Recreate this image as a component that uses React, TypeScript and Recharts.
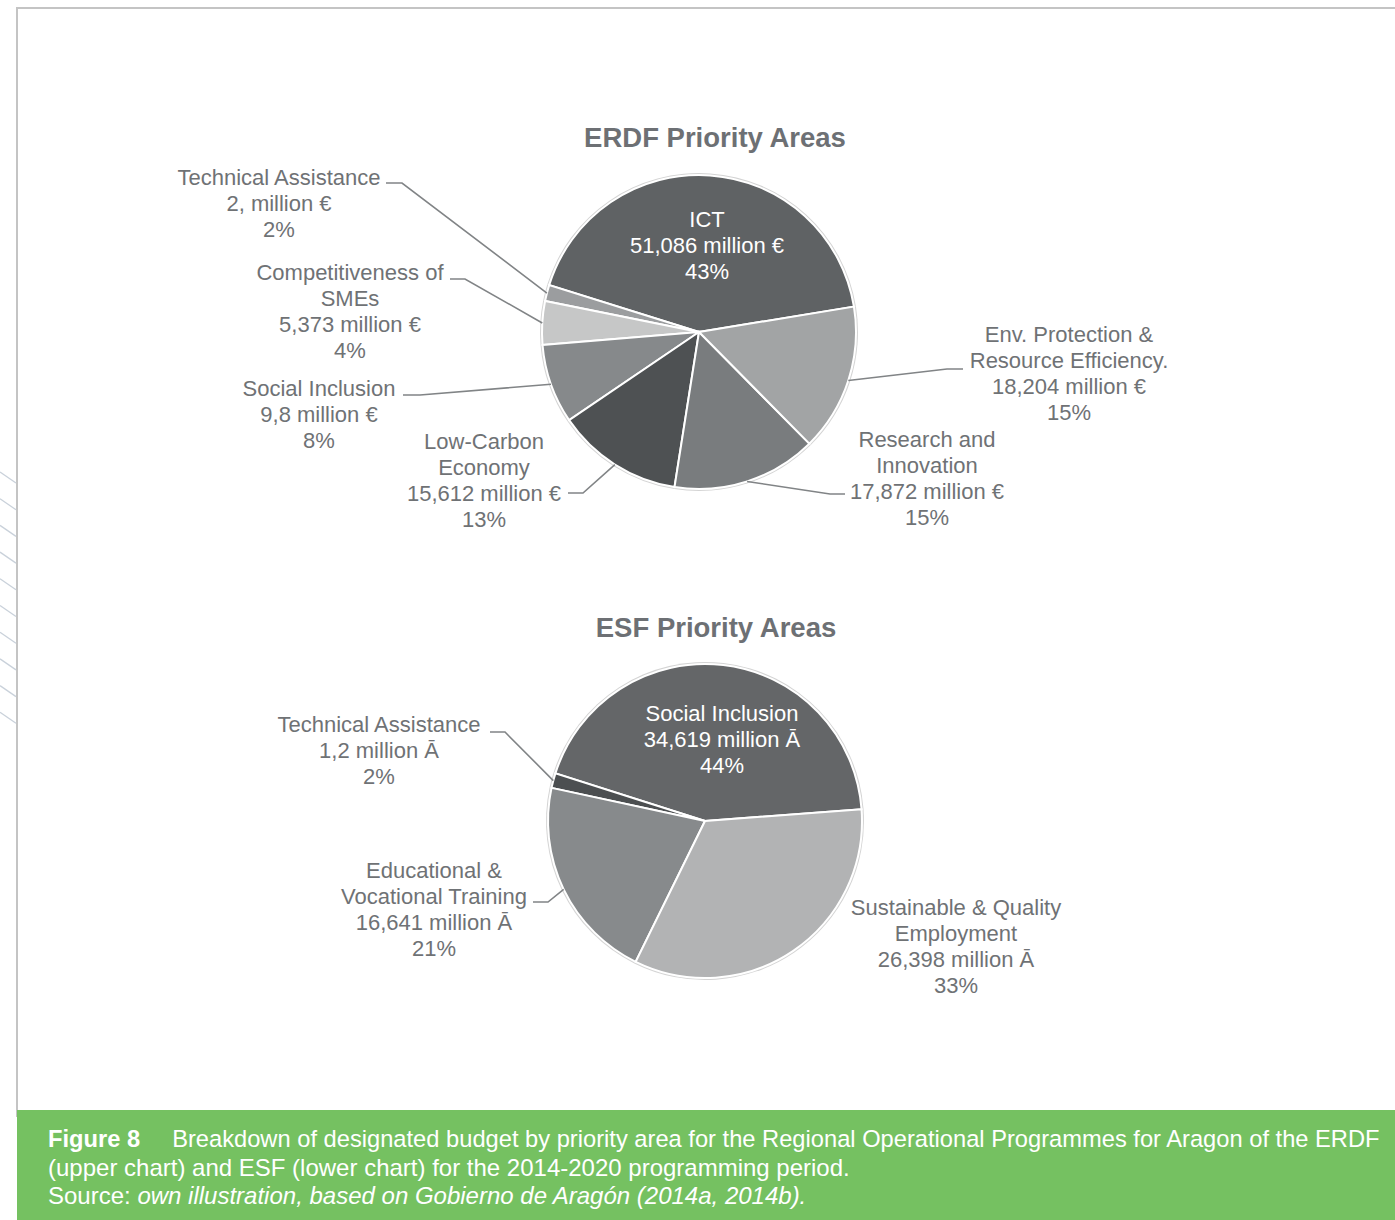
import React from 'react';
import { PieChart, Pie, Cell } from 'recharts';

// ---------- ERDF data ----------
const erdfNames = [
  'ICT',
  'Technical Assistance',
  'Competitiveness of\nSMEs',
  'Social Inclusion',
  'Low-Carbon\nEconomy',
  'Research and\nInnovation',
  'Env. Protection &\nResource Efficiency.',
];
const erdfValues = [51086, 2000, 5373, 9800, 15612, 17872, 18204];
const erdfValueLabels = [
  '51,086 million €',
  '2, million €',
  '5,373 million €',
  '9,8 million €',
  '15,612 million €',
  '17,872 million €',
  '18,204 million €',
];
const erdfColors = ['#5f6264', '#9b9d9f', '#c6c7c7', '#86898b', '#4e5153', '#797c7e', '#a2a4a5'];

// ---------- ESF data ----------
const esfNames = [
  'Social Inclusion',
  'Technical Assistance',
  'Educational &\nVocational Training',
  'Sustainable & Quality\nEmployment',
];
const esfValues = [34619, 1200, 16641, 26398];
const esfValueLabels = ['34,619 million Ā', '1,2 million Ā', '16,641 million Ā', '26,398 million Ā'];
const esfColors = ['#646668', '#4c4f51', '#878a8c', '#b2b3b4'];

const erdfData = erdfNames.map((n, i) => ({ name: n, value: erdfValues[i] }));
const esfData = esfNames.map((n, i) => ({ name: n, value: esfValues[i] }));

// ---------- label layout (offsets relative to pie centre) ----------
type LabelLayout = {
  tx: number;
  ty: number;
  inside?: boolean;
  leader?: { hx: number; ex: number; ly: number };
};
const erdfLabelLayout: LabelLayout[] = [
  { tx: 8, ty: -113, inside: true },
  { tx: -420, ty: -155, leader: { hx: -313, ex: -297, ly: -149 } },
  { tx: -349, ty: -60, leader: { hx: -249, ex: -234, ly: -53 } },
  { tx: -380, ty: 56, leader: { hx: -296, ex: -279, ly: 63 } },
  { tx: -215, ty: 109, leader: { hx: -131, ex: -116, ly: 161 } },
  { tx: 228, ty: 107, leader: { hx: 146, ex: 131, ly: 162 } },
  { tx: 370, ty: 2, leader: { hx: 264, ex: 248, ly: 37 } },
];
const esfLabelLayout: LabelLayout[] = [
  { tx: 17, ty: -108, inside: true },
  { tx: -326, ty: -97, leader: { hx: -215, ex: -200, ly: -89 } },
  { tx: -271, ty: 49, leader: { hx: -172, ex: -157, ly: 81 } },
  { tx: 251, ty: 86 },
];

const FONT = "'Liberation Sans', Arial, Helvetica, sans-serif";
const TEXT_COLOR = '#6f7275';
const LINE_COLOR = '#818486';
const LINE_H = 26;
const RADIUS = 157;

const makeLabel =
  (layout: LabelLayout[], names: string[], valueLabels: string[], values: number[]) =>
  (props: any) => {
    const { cx, cy, midAngle, outerRadius, index } = props;
    const L = layout[index];
    if (!L) return null;
    const total = values.reduce((a, b) => a + b, 0);
    const pct = Math.round((values[index] / total) * 100);
    const lines = [...names[index].split('\n'), valueLabels[index], `${pct}%`];
    const RAD = Math.PI / 180;
    const px = cx + outerRadius * Math.cos(-midAngle * RAD);
    const py = cy + outerRadius * Math.sin(-midAngle * RAD);
    return (
      <g key={`lbl-${index}`}>
        {L.leader && (
          <polyline
            points={`${px},${py} ${cx + L.leader.ex},${cy + L.leader.ly} ${cx + L.leader.hx},${cy + L.leader.ly}`}
            fill="none"
            stroke={LINE_COLOR}
            strokeWidth={1.6}
          />
        )}
        {lines.map((t, i) => (
          <text
            key={i}
            x={cx + L.tx}
            y={cy + L.ty + i * LINE_H + 7.5}
            textAnchor="middle"
            fontFamily={FONT}
            fontSize={22}
            fill={L.inside ? '#ffffff' : TEXT_COLOR}
          >
            {t}
          </text>
        ))}
      </g>
    );
  };

const ERDF_CX = 699;
const ERDF_CY = 332;
const ESF_CX = 705;
const ESF_CY = 821;

export default function App() {
  return (
    <div
      style={{
        position: 'absolute',
        left: 0,
        top: 0,
        width: 1395,
        height: 1220,
        background: '#ffffff',
        overflow: 'hidden',
        fontFamily: FONT,
      }}
    >
      {/* frame */}
      <div
        style={{
          position: 'absolute',
          left: 16,
          top: 7,
          width: 1400,
          height: 1110,
          borderTop: '2px solid #c4c4c4',
          borderLeft: '2px solid #c4c4c4',
          boxSizing: 'border-box',
        }}
      />
      {/* hatching at left edge */}
      <svg style={{ position: 'absolute', left: 0, top: 460, width: 17, height: 280 }}>
        {Array.from({ length: 10 }).map((_, i) => (
          <line
            key={i}
            x1={0}
            y1={12 + i * 26.7}
            x2={16}
            y2={23 + i * 26.7}
            stroke="#c9d1da"
            strokeWidth={1.3}
          />
        ))}
      </svg>

      {/* titles */}
      <div
        style={{
          position: 'absolute',
          left: 515,
          width: 400,
          top: 121,
          textAlign: 'center',
          fontSize: 27.5,
          fontWeight: 'bold',
          color: '#6d7074',
          lineHeight: '34px',
        }}
      >
        ERDF Priority Areas
      </div>
      <div
        style={{
          position: 'absolute',
          left: 516,
          width: 400,
          top: 611,
          textAlign: 'center',
          fontSize: 27.5,
          fontWeight: 'bold',
          color: '#6d7074',
          lineHeight: '34px',
        }}
      >
        ESF Priority Areas
      </div>

      {/* charts */}
      <div style={{ position: 'absolute', left: 0, top: 0 }}>
        <PieChart width={1395} height={1100} margin={{ top: 0, right: 0, bottom: 0, left: 0 }}>
          <Pie
            data={erdfData}
            dataKey="value"
            nameKey="name"
            cx={ERDF_CX}
            cy={ERDF_CY}
            outerRadius={RADIUS + 2}
            startAngle={9.3}
            endAngle={369.3}
            fill="#d4d4d4"
            stroke="none"
            isAnimationActive={false}
          />
          <Pie
            data={erdfData}
            dataKey="value"
            nameKey="name"
            cx={ERDF_CX}
            cy={ERDF_CY}
            outerRadius={RADIUS}
            startAngle={9.3}
            endAngle={369.3}
            stroke="#ffffff"
            strokeWidth={2}
            isAnimationActive={false}
            labelLine={false}
            label={makeLabel(erdfLabelLayout, erdfNames, erdfValueLabels, erdfValues)}
          >
            {erdfData.map((_, i) => (
              <Cell key={i} fill={erdfColors[i]} />
            ))}
          </Pie>

          <Pie
            data={esfData}
            dataKey="value"
            nameKey="name"
            cx={ESF_CX}
            cy={ESF_CY}
            outerRadius={RADIUS + 2}
            startAngle={4.3}
            endAngle={364.3}
            fill="#d4d4d4"
            stroke="none"
            isAnimationActive={false}
          />
          <Pie
            data={esfData}
            dataKey="value"
            nameKey="name"
            cx={ESF_CX}
            cy={ESF_CY}
            outerRadius={RADIUS}
            startAngle={4.3}
            endAngle={364.3}
            stroke="#ffffff"
            strokeWidth={2}
            isAnimationActive={false}
            labelLine={false}
            label={makeLabel(esfLabelLayout, esfNames, esfValueLabels, esfValues)}
          >
            {esfData.map((_, i) => (
              <Cell key={i} fill={esfColors[i]} />
            ))}
          </Pie>
        </PieChart>
      </div>

      {/* caption */}
      <div
        style={{
          position: 'absolute',
          left: 17,
          top: 1110,
          width: 1378,
          height: 110,
          background: '#75c161',
          color: '#ffffff',
          fontSize: 24,
          lineHeight: '28.5px',
          paddingLeft: 31,
          paddingTop: 15,
          boxSizing: 'border-box',
          whiteSpace: 'nowrap',
        }}
      >
        <span style={{ fontSize: 23.7 }}>
          <b>Figure 8</b>
          <span style={{ marginLeft: 32 }}>
            Breakdown of designated budget by priority area for the Regional Operational Programmes for Aragon of the ERDF
          </span>
        </span>
        <br />
        (upper chart) and ESF (lower chart) for the 2014-2020 programming period.
        <br />
        Source: <i>own illustration, based on Gobierno de Aragón (2014a, 2014b).</i>
      </div>
    </div>
  );
}
